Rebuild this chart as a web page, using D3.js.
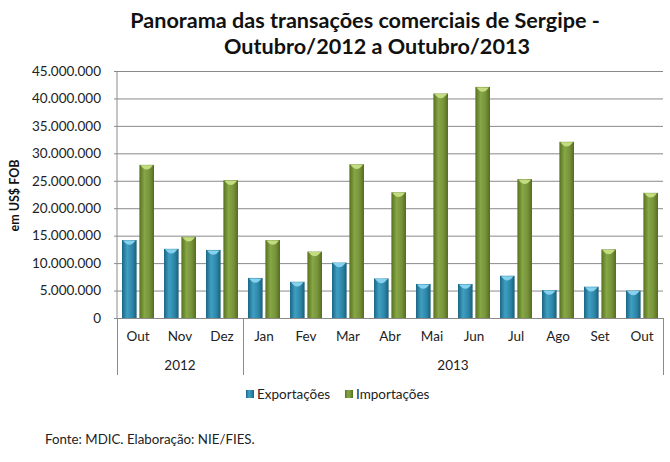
<!DOCTYPE html>
<html>
<head>
<meta charset="utf-8">
<script src="https://cdn.jsdelivr.net/npm/d3@7/dist/d3.min.js"></script>
<style>
  html, body { margin: 0; padding: 0; background: #fff; }
  svg { display: block; font-family: Lato, "Open Sans", sans-serif; }
</style>
</head>
<body>
<script>
(function () {
  'use strict';

  var months = ['Out', 'Nov', 'Dez', 'Jan', 'Fev', 'Mar', 'Abr', 'Mai', 'Jun', 'Jul', 'Ago', 'Set', 'Out'];
  var yearLabels = ['2012', '2013'];
  var yearSpans = [3, 10];
  var seriesNames = ['Exportações', 'Importações'];
  var exportacoes = [14200000, 12600000, 12400000, 7300000, 6600000, 10100000, 7200000,
    6200000, 6200000, 7700000, 5100000, 5700000, 5000000];
  var importacoes = [27900000, 14800000, 25100000, 14200000, 12100000, 28000000, 22900000,
    40900000, 42100000, 25300000, 32100000, 12500000, 22800000];
  var yTicks = [0, 5000000, 10000000, 15000000, 20000000, 25000000, 30000000, 35000000, 40000000, 45000000];

  var width = 670,
    height = 462,
    left = 117,
    right = 663,
    top = 71,
    bottom = 318;

  var svg,
    x0,
    x1,
    y,
    fmt;

  init();

  function init() {
    svg = d3.select('body')
      .append('svg')
      .attr('width', width)
      .attr('height', height);

    fmt = d3.formatLocale({ decimal: ',', thousands: '.', grouping: [3], currency: ['', ''] }).format(',');

    x0 = d3.scaleBand()
      .domain(d3.range(months.length))
      .range([left, right])
      .padding(0);

    x1 = d3.scaleBand()
      .domain([0, 1])
      .range([5, x0.bandwidth() - 5])
      .paddingInner(0.16);

    y = d3.scaleLinear()
      .domain([0, 45000000])
      .range([bottom, top]);

    makeGradients();
    drawTitle();
    drawGrid();
    drawBars();
    drawCategoryAxis();
    drawLegend();

    svg.append('text')
      .attr('x', 45)
      .attr('y', 444)
      .attr('font-size', 13.3)
      .attr('fill', '#222')
      .text('Fonte: MDIC. Elaboração: NIE/FIES.');
  }

  function makeGradients() {
    var defs = svg.append('defs');
    var sets = [
      { id: 'gExp', stops: ['#1b6584', '#3f9fc2', '#2e87a9', '#1a5f7c'] },
      { id: 'gImp', stops: ['#56711f', '#87a646', '#76933a', '#536c1e'] }
    ];
    sets.forEach(function (s) {
      var g = defs.append('linearGradient')
        .attr('id', s.id)
        .attr('x1', '0%').attr('x2', '100%')
        .attr('y1', '0%').attr('y2', '0%');
      [0, 0.35, 0.7, 1].forEach(function (o, i) {
        g.append('stop').attr('offset', o).attr('stop-color', s.stops[i]);
      });
    });
  }

  function drawTitle() {
    svg.append('text')
      .attr('x', 365)
      .attr('y', 28)
      .attr('text-anchor', 'middle')
      .attr('font-size', 21.6)
      .attr('font-weight', 'bold')
      .attr('fill', '#111')
      .text('Panorama das transações comerciais de Sergipe -');

    svg.append('text')
      .attr('x', 377)
      .attr('y', 54)
      .attr('text-anchor', 'middle')
      .attr('font-size', 21.6)
      .attr('font-weight', 'bold')
      .attr('fill', '#111')
      .text('Outubro/2012 a Outubro/2013');

    svg.append('text')
      .attr('transform', 'translate(19,195.5) rotate(-90)')
      .attr('text-anchor', 'middle')
      .attr('font-size', 12.5)
      .attr('font-weight', 'bold')
      .attr('fill', '#111')
      .text('em US$ FOB');
  }

  function drawGrid() {
    var axis = d3.axisLeft(y)
      .tickValues(yTicks)
      .tickSize(-(right - left))
      .tickPadding(16)
      .tickFormat(fmt);

    var g = svg.append('g')
      .attr('transform', 'translate(' + left + ',0)')
      .call(axis);

    g.select('.domain').remove();
    g.selectAll('.tick line')
      .attr('x1', -3)
      .attr('stroke', '#8a8a8a');
    g.selectAll('.tick text')
      .attr('font-family', 'Lato, "Open Sans", sans-serif')
      .attr('font-size', 13.5)
      .attr('fill', '#222');

    svg.append('line')
      .attr('x1', left).attr('x2', left)
      .attr('y1', top).attr('y2', bottom)
      .attr('stroke', '#8a8a8a');
  }

  function drawBars() {
    var rows = months.map(function (m, i) {
      return { i: i, values: [exportacoes[i], importacoes[i]] };
    });
    var fills = ['url(#gExp)', 'url(#gImp)'];
    var caps = ['#86d2ee', '#c4dc80'];

    var groups = svg.append('g')
      .selectAll('g')
      .data(rows)
      .enter()
      .append('g')
      .attr('transform', function (d) {
        return 'translate(' + x0(d.i) + ',0)';
      });

    var bars = groups.selectAll('g')
      .data(function (d) {
        return d.values.map(function (v, k) {
          return { k: k, v: v };
        });
      })
      .enter()
      .append('g');

    bars.append('rect')
      .attr('x', function (d) {
        return x1(d.k);
      })
      .attr('y', function (d) {
        return y(d.v);
      })
      .attr('width', x1.bandwidth())
      .attr('height', function (d) {
        return y(0) - y(d.v);
      })
      .attr('fill', function (d) {
        return fills[d.k];
      });

    bars.append('path')
      .attr('d', function (d) {
        var xa = x1(d.k),
          w = x1.bandwidth(),
          t = y(d.v);
        return 'M' + (xa + 1) + ',' + (t + 0.5) +
          'L' + (xa + w - 1) + ',' + (t + 0.5) +
          'Q' + (xa + w / 2) + ',' + (t + 9) + ' ' + (xa + 1) + ',' + (t + 0.5) + 'Z';
      })
      .attr('fill', function (d) {
        return caps[d.k];
      });
  }

  function drawCategoryAxis() {
    var g = svg.append('g');
    var lineColor = '#8a8a8a';

    g.append('line')
      .attr('x1', left).attr('x2', right)
      .attr('y1', bottom + 0.5).attr('y2', bottom + 0.5)
      .attr('stroke', lineColor);

    var axis = d3.axisBottom(x0)
      .tickSize(0)
      .tickPadding(13)
      .tickFormat(function (i) {
        return months[i];
      });

    var ax = g.append('g')
      .attr('transform', 'translate(0,' + bottom + ')')
      .call(axis);
    ax.select('.domain').remove();
    ax.selectAll('.tick text')
      .attr('font-family', 'Lato, "Open Sans", sans-serif')
      .attr('font-size', 13.5)
      .attr('fill', '#222');

    var start = 0;
    var bounds = [left];
    yearLabels.forEach(function (lab, j) {
      var a = x0(start),
        b = x0(start + yearSpans[j] - 1) + x0.bandwidth();
      g.append('text')
        .attr('x', (a + b) / 2)
        .attr('y', 370)
        .attr('text-anchor', 'middle')
        .attr('font-size', 13.5)
        .attr('fill', '#222')
        .text(lab);
      bounds.push(b);
      start += yearSpans[j];
    });

    g.selectAll('.sep')
      .data(bounds)
      .enter()
      .append('line')
      .attr('class', 'sep')
      .attr('x1', function (d) { return Math.round(d) + 0.5; })
      .attr('x2', function (d) { return Math.round(d) + 0.5; })
      .attr('y1', bottom)
      .attr('y2', 375)
      .attr('stroke', lineColor);
  }

  function drawLegend() {
    var items = [
      { x: 246, fill: 'url(#gExp)' },
      { x: 345, fill: 'url(#gImp)' }
    ];
    var lg = svg.append('g');
    items.forEach(function (it, i) {
      lg.append('rect')
        .attr('x', it.x)
        .attr('y', 390)
        .attr('width', 8)
        .attr('height', 8)
        .attr('fill', it.fill);
      lg.append('text')
        .attr('x', it.x + 11)
        .attr('y', 398.5)
        .attr('font-size', 13.5)
        .attr('fill', '#222')
        .text(seriesNames[i]);
    });
  }
}());
</script>
</body>
</html>
